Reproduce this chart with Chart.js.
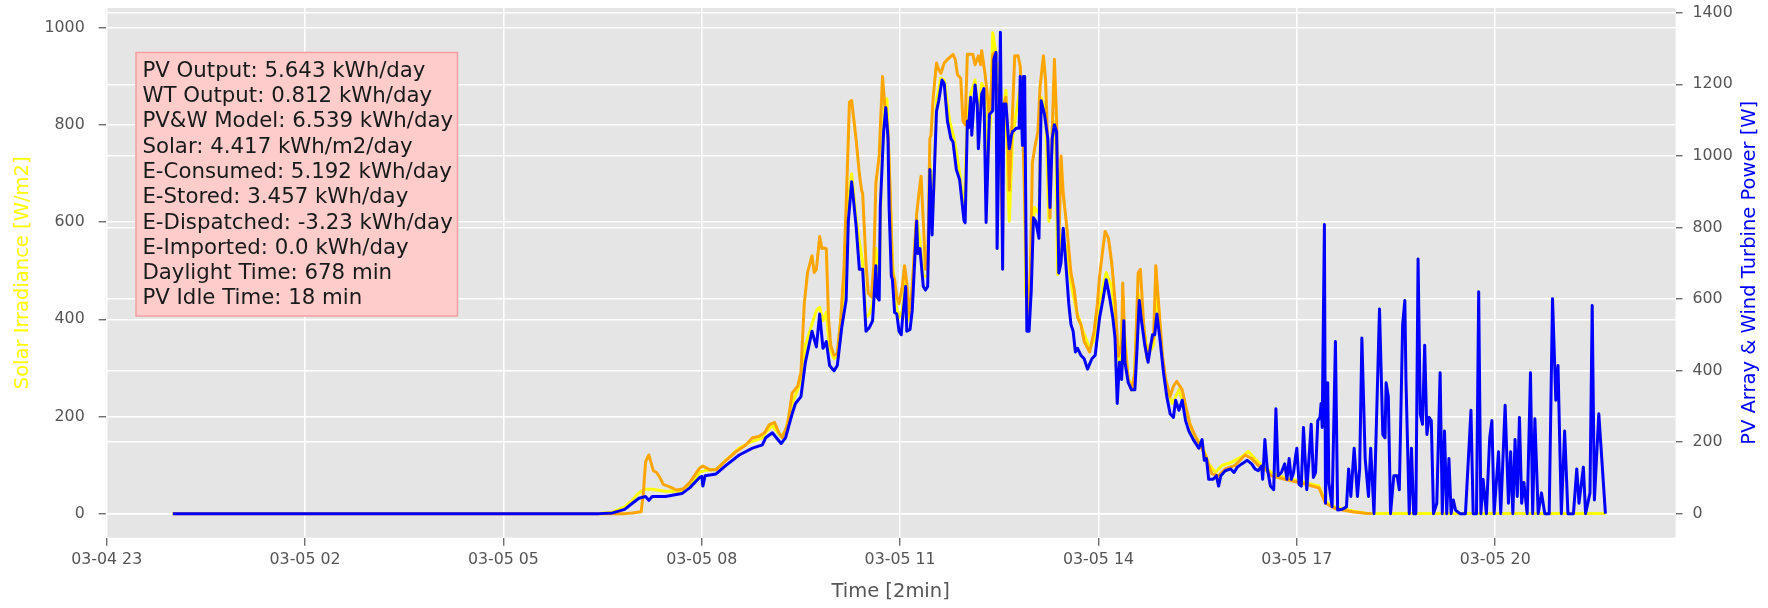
<!DOCTYPE html>
<html>
<head>
<meta charset="utf-8">
<script src="https://cdn.jsdelivr.net/npm/chart.js@4.4.1/dist/chart.umd.min.js"></script>
<style>
  html, body { margin: 0; padding: 0; background: #ffffff; }
  canvas { display: block; }
</style>
</head>
<body>
<canvas id="chart" width="1768" height="608"></canvas>
<script>
// Time axis: minutes after 03-05 00:00, ticks every 3 hours
const xTickMinutes = [-60, 120, 300, 480, 660, 840, 1020, 1200];
const xTickLabels = ['03-04 23', '03-05 02', '03-05 05', '03-05 08', '03-05 11', '03-05 14', '03-05 17', '03-05 20'];
const leftTicks = [0, 200, 400, 600, 800, 1000];
const rightTicks = [0, 200, 400, 600, 800, 1000, 1200, 1400];

// Solar irradiance [W/m2] (left axis)
const solarTimes = [0, 387, 399, 410, 417, 423, 429, 435, 447, 462, 469, 478, 483, 493, 502, 514, 526, 535, 538, 544, 552, 556, 562, 567, 570, 574, 580, 584, 587, 590, 593, 596, 600, 603, 607, 611, 613, 616, 620, 623, 626, 629, 632, 635, 638, 641, 643, 646, 648, 650, 653, 656, 659, 662, 665, 667, 670, 675, 678, 681, 685, 687, 690, 693, 697, 700, 705, 709, 714, 718, 721, 724, 728, 731, 734, 737, 739, 742, 744, 747, 748, 750, 753, 755, 756, 758, 759, 762, 765, 769, 772, 774, 777, 779, 782, 786, 788, 792, 795, 798, 801, 803, 806, 811, 815, 820, 826, 832, 837, 842, 847, 852, 856, 859, 862, 867, 872, 876, 881, 885, 890, 893, 898, 902, 907, 913, 919, 926, 934, 940, 946, 952, 961, 970, 976, 982, 988, 997, 1009, 1022, 1034, 1040, 1046, 1055, 1070, 1082, 1088, 1300];
const solarIrradiance = [0, 0, 3, 14, 28, 43, 50, 50, 46, 46, 57, 85, 89, 91, 110, 135, 149, 156, 167, 181, 159, 170, 227, 255, 276, 347, 390, 418, 425, 397, 415, 340, 319, 326, 418, 489, 645, 700, 610, 560, 517, 404, 411, 432, 546, 475, 702, 850, 854, 716, 525, 432, 404, 418, 489, 397, 432, 609, 560, 489, 489, 723, 631, 850, 897, 893, 808, 772, 702, 617, 822, 864, 893, 822, 886, 872, 702, 815, 990, 949, 702, 928, 702, 857, 872, 659, 602, 772, 822, 879, 872, 454, 390, 560, 631, 617, 857, 829, 602, 772, 808, 492, 574, 546, 475, 418, 376, 340, 361, 446, 496, 468, 383, 300, 418, 276, 262, 454, 383, 326, 347, 468, 319, 255, 227, 255, 213, 163, 142, 103, 85, 99, 106, 117, 128, 113, 99, 85, 74, 67, 60, 57, 25, 13, 6, 1, 0, 0];

// PV array power [W] (right axis)
const pvTimes = [0, 410, 417, 425, 427, 429, 432, 436, 439, 442, 445, 451, 457, 463, 469, 478, 481, 487, 493, 502, 511, 520, 526, 532, 537, 541, 546, 550, 553, 558, 562, 567, 570, 573, 576, 580, 582, 584, 587, 589, 591, 593, 595, 597, 600, 603, 606, 609, 612, 614, 616, 620, 623, 625, 626, 629, 631, 634, 636, 638, 641, 644, 646, 649, 651, 653, 655, 657, 659, 662, 664, 666, 669, 672, 675, 677, 679, 681, 683, 685, 687, 688, 690, 693, 695, 697, 700, 703, 708, 710, 712, 715, 717, 719, 721, 726, 728, 731, 733, 734, 737, 739, 741, 743, 744, 746, 747, 750, 753, 754, 756, 758, 759, 762, 764, 767, 769, 771, 774, 776, 778, 780, 782, 785, 787, 790, 792, 794, 796, 798, 800, 802, 804, 806, 808, 811, 813, 815, 818, 821, 824, 827, 832, 836, 839, 841, 844, 846, 849, 852, 855, 858, 861, 862, 864, 867, 870, 873, 876, 878, 881, 884, 887, 890, 892, 895, 898, 901, 905, 908, 911, 916, 919, 923, 928, 932, 937, 940, 943, 949, 955, 964, 973, 979, 985, 991, 997, 1009, 1022, 1034, 1040, 1046, 1055, 1070, 1082, 1088];
const pvPower = [0, 0, 2, 5, 58, 145, 164, 120, 115, 101, 82, 75, 66, 69, 87, 127, 133, 123, 123, 149, 173, 192, 212, 216, 226, 248, 255, 226, 212, 250, 337, 356, 395, 587, 674, 721, 674, 683, 775, 741, 743, 741, 548, 471, 443, 447, 539, 683, 953, 1150, 1155, 1048, 950, 904, 895, 702, 616, 606, 693, 924, 1000, 1222, 1145, 1068, 895, 673, 654, 606, 587, 635, 693, 645, 548, 683, 837, 895, 943, 818, 683, 683, 1049, 1058, 1164, 1260, 1241, 1231, 1260, 1270, 1284, 1270, 1227, 1217, 1097, 1087, 1284, 1284, 1255, 1280, 1255, 1294, 1231, 1174, 1106, 1202, 1284, 1289, 1202, 1174, 760, 1145, 1164, 1029, 904, 1125, 1280, 1280, 1250, 1116, 760, 529, 645, 981, 1020, 1068, 1193, 1280, 1212, 1029, 827, 1068, 1270, 1097, 741, 1000, 895, 808, 741, 673, 625, 548, 529, 481, 452, 510, 587, 664, 741, 789, 770, 702, 596, 440, 471, 645, 471, 375, 346, 394, 673, 683, 529, 433, 471, 491, 693, 568, 443, 375, 327, 356, 370, 346, 303, 250, 216, 192, 164, 135, 111, 106, 125, 135, 164, 154, 135, 125, 106, 96, 87, 77, 72, 29, 14, 5, 1, 0];

// PV array & wind turbine power [W] (right axis)
const pvwTimes = [0, 387, 399, 410, 417, 423, 429, 432, 435, 447, 462, 469, 478, 480, 481, 483, 493, 502, 514, 526, 535, 538, 544, 552, 556, 562, 565, 570, 574, 580, 584, 587, 590, 593, 596, 600, 603, 607, 611, 613, 616, 620, 623, 626, 629, 632, 635, 638, 639, 641, 642, 645, 647, 649, 650, 652, 653, 655, 657, 659, 661, 662, 665, 666, 669, 671, 675, 676, 678, 681, 683, 685, 687, 689, 691, 693, 695, 698, 700, 703, 706, 708, 711, 714, 718, 719, 721, 722, 724, 725, 728, 730, 731, 734, 736, 738, 741, 744, 745, 747, 748, 750, 751, 753, 754, 756, 759, 761, 762, 764, 765, 768, 769, 771, 772, 773, 775, 777, 779, 781, 783, 786, 788, 791, 794, 796, 798, 800, 802, 804, 806, 808, 811, 813, 815, 817, 819, 821, 824, 827, 830, 834, 837, 841, 844, 847, 850, 853, 855, 857, 859, 861, 863, 864, 867, 870, 873, 875, 877, 879, 882, 885, 887, 889, 891, 893, 896, 899, 902, 905, 908, 910, 913, 916, 919, 922, 926, 931, 934, 936, 938, 940, 944, 947, 949, 951, 955, 960, 963, 966, 970, 975, 979, 982, 985, 988, 989, 991, 993, 996, 999, 1001, 1003, 1006, 1009, 1011, 1013, 1015, 1017, 1019, 1020, 1022, 1024, 1026, 1029, 1031, 1033, 1035, 1037, 1039, 1041, 1042, 1043, 1045, 1046, 1048, 1049, 1052, 1055, 1057, 1061, 1065, 1067, 1069, 1072, 1075, 1077, 1079, 1082, 1085, 1087, 1090, 1095, 1098, 1100, 1101, 1103, 1105, 1108, 1111, 1113, 1116, 1118, 1119, 1122, 1124, 1126, 1128, 1130, 1132, 1134, 1136, 1138, 1140, 1142, 1144, 1147, 1150, 1152, 1154, 1156, 1158, 1160, 1162, 1164, 1168, 1173, 1178, 1180, 1183, 1185, 1187, 1189, 1192, 1195, 1197, 1199, 1203, 1205, 1209, 1212, 1214, 1216, 1218, 1220, 1222, 1224, 1226, 1229, 1232, 1234, 1236, 1239, 1242, 1245, 1249, 1252, 1255, 1257, 1260, 1263, 1266, 1271, 1274, 1276, 1280, 1282, 1286, 1288, 1290, 1294, 1300];
const pvwPower = [0, 0, 2, 12, 29, 43, 48, 37, 48, 48, 56, 72, 101, 104, 77, 106, 111, 135, 164, 183, 192, 212, 226, 196, 212, 279, 308, 327, 423, 510, 466, 558, 462, 481, 414, 399, 414, 520, 597, 818, 928, 806, 683, 683, 510, 520, 539, 693, 606, 597, 856, 1068, 1135, 1049, 856, 664, 654, 562, 558, 510, 500, 539, 635, 510, 515, 568, 818, 727, 741, 635, 625, 635, 962, 779, 952, 1125, 1154, 1212, 1202, 1096, 1049, 1039, 962, 933, 818, 813, 1097, 1078, 1164, 1058, 1198, 1145, 1020, 1173, 1188, 814, 1116, 1126, 1270, 1289, 741, 1116, 1346, 683, 1145, 1145, 1020, 1058, 1068, 1073, 1077, 1077, 1222, 1029, 1222, 1222, 510, 510, 625, 827, 818, 770, 1154, 1116, 1049, 856, 1049, 1087, 1068, 673, 702, 798, 673, 587, 529, 510, 452, 462, 443, 433, 404, 433, 443, 548, 597, 654, 606, 548, 491, 308, 423, 375, 539, 423, 366, 346, 346, 462, 596, 539, 471, 423, 462, 500, 500, 558, 481, 394, 327, 279, 269, 317, 289, 317, 260, 231, 207, 183, 207, 149, 154, 96, 96, 106, 77, 106, 120, 125, 115, 130, 139, 149, 139, 125, 120, 133, 96, 207, 130, 77, 67, 293, 106, 115, 139, 96, 154, 96, 115, 164, 183, 82, 77, 241, 67, 154, 250, 101, 115, 260, 269, 308, 241, 808, 29, 366, 87, 19, 481, 10, 12, 19, 125, 48, 183, 48, 125, 491, 154, 48, 183, 0, 572, 221, 212, 366, 327, 0, 106, 106, 67, 529, 596, 375, 0, 183, 0, 0, 712, 279, 250, 471, 221, 269, 260, 0, 29, 394, 0, 231, 0, 154, 0, 38, 10, 0, 0, 289, 0, 0, 620, 0, 96, 0, 212, 260, 0, 173, 0, 303, 29, 173, 0, 207, 48, 269, 29, 87, 0, 394, 0, 265, 0, 58, 0, 0, 601, 317, 414, 0, 231, 0, 0, 125, 29, 130, 0, 58, 582, 38, 279, 0];

// Daily summary shown in the annotation box
const summaryLines = [
  'PV Output: 5.643 kWh/day',
  'WT Output: 0.812 kWh/day',
  'PV&W Model: 6.539 kWh/day',
  'Solar: 4.417 kWh/m2/day',
  'E-Consumed: 5.192 kWh/day',
  'E-Stored: 3.457 kWh/day',
  'E-Dispatched: -3.23 kWh/day',
  'E-Imported: 0.0 kWh/day',
  'Daylight Time: 678 min',
  'PV Idle Time: 18 min'
];

const toPoints = (times, values) => times.map((t, i) => ({ x: t, y: values[i] }));

const FONT = 'DejaVu Sans';
const TICK_GRAY = '#555555';

// Grey panel behind the plotting area
const panelBackground = {
  id: 'panelBackground',
  beforeDraw(chart) {
    const { ctx, chartArea: a } = chart;
    ctx.save();
    ctx.fillStyle = '#e5e5e5';
    ctx.fillRect(a.left, a.top, a.right - a.left, a.bottom - a.top);
    ctx.restore();
  }
};

// Right-hand axis title, reading bottom-to-top
const rightAxisTitle = {
  id: 'rightAxisTitle',
  afterDraw(chart) {
    const { ctx, chartArea: a } = chart;
    ctx.save();
    ctx.translate(1750, (a.top + a.bottom) / 2);
    ctx.rotate(-Math.PI / 2);
    ctx.font = '19.5px "' + FONT + '"';
    ctx.fillStyle = '#0000ff';
    ctx.textAlign = 'center';
    ctx.textBaseline = 'middle';
    ctx.fillText('PV Array & Wind Turbine Power [W]', 0, 0);
    ctx.restore();
  }
};

// Pink summary box in the upper left of the plot
const summaryBox = {
  id: 'summaryBox',
  afterDatasetsDraw(chart) {
    const { ctx } = chart;
    ctx.save();
    ctx.fillStyle = '#ffcccc';
    ctx.strokeStyle = '#f0a0a0';
    ctx.lineWidth = 1.5;
    ctx.fillRect(136, 52.5, 321.5, 263.5);
    ctx.strokeRect(136, 52.5, 321.5, 263.5);
    ctx.font = '21.3px "' + FONT + '"';
    ctx.fillStyle = '#1a1a1a';
    ctx.textAlign = 'left';
    ctx.textBaseline = 'alphabetic';
    summaryLines.forEach((line, i) => ctx.fillText(line, 142.4, 76.7 + i * 25.3));
    ctx.restore();
  }
};

const fixedTicks = values => scale => { scale.ticks = values.map(v => ({ value: v })); };
const noOverflow = extra => scale => {
  scale.paddingTop = 0; scale.paddingBottom = 0; scale.paddingLeft = 0; scale.paddingRight = 0;
  extra(scale);
};

new Chart(document.getElementById('chart'), {
  type: 'line',
  data: {
    datasets: [
      {
        label: 'PV & WT Power',
        data: toPoints(pvwTimes, pvwPower),
        yAxisID: 'y1',
        borderColor: '#0000ff',
        borderWidth: 3,
        order: 1
      },
      {
        label: 'PV Power',
        data: toPoints(pvTimes, pvPower),
        yAxisID: 'y1',
        borderColor: '#ffa500',
        borderWidth: 3,
        order: 2
      },
      {
        label: 'Solar Irradiance',
        data: toPoints(solarTimes, solarIrradiance),
        yAxisID: 'y',
        borderColor: '#ffff00',
        borderWidth: 3,
        order: 3
      }
    ]
  },
  options: {
    responsive: false,
    animation: false,
    devicePixelRatio: 1,
    layout: { padding: { top: 8, left: 0, right: 0, bottom: 0 } },
    elements: {
      point: { radius: 0, hoverRadius: 0 },
      line: { tension: 0, borderJoinStyle: 'round', borderCapStyle: 'butt', fill: false }
    },
    plugins: {
      legend: { display: false },
      tooltip: { enabled: false }
    },
    scales: {
      x: {
        type: 'linear',
        min: -60.9,
        max: 1363.6,
        afterBuildTicks: fixedTicks(xTickMinutes),
        afterFit: noOverflow(s => { s.height = 70.3; }),
        ticks: {
          autoSkip: false,
          maxRotation: 0,
          color: TICK_GRAY,
          font: { family: FONT, size: 15.8 },
          padding: 5,
          callback: v => xTickLabels[xTickMinutes.indexOf(v)]
        },
        grid: { color: '#ffffff', lineWidth: 1.5, tickColor: TICK_GRAY, tickLength: 8, tickWidth: 1.2 },
        border: { display: false },
        title: {
          display: true,
          text: 'Time [2min]',
          color: TICK_GRAY,
          font: { family: FONT, size: 19.5 },
          padding: { top: 0, bottom: 4 }
        }
      },
      y: {
        position: 'left',
        min: -49.6,
        max: 1041.2,
        afterBuildTicks: fixedTicks(leftTicks),
        afterFit: noOverflow(s => { s.width = 105.7; }),
        ticks: { color: TICK_GRAY, font: { family: FONT, size: 15.8 }, padding: 14, callback: v => String(v) },
        grid: { color: '#ffffff', lineWidth: 1.5, tickColor: TICK_GRAY, tickLength: 7, tickWidth: 1.2 },
        border: { display: false },
        title: {
          display: true,
          text: 'Solar Irradiance [W/m2]',
          color: '#ffff00',
          font: { family: FONT, size: 19.5 },
          padding: { top: 11, bottom: 0 }
        }
      },
      y1: {
        position: 'right',
        min: -67.3,
        max: 1413.5,
        afterBuildTicks: fixedTicks(rightTicks),
        afterFit: noOverflow(s => { s.width = 92.5; }),
        ticks: { color: TICK_GRAY, font: { family: FONT, size: 15.8 }, padding: 10, callback: v => String(v) },
        grid: { color: '#ffffff', lineWidth: 1.5, tickColor: TICK_GRAY, tickLength: 7, tickWidth: 1.2 },
        border: { display: false }
      }
    }
  },
  plugins: [panelBackground, summaryBox, rightAxisTitle]
});
</script>
</body>
</html>
